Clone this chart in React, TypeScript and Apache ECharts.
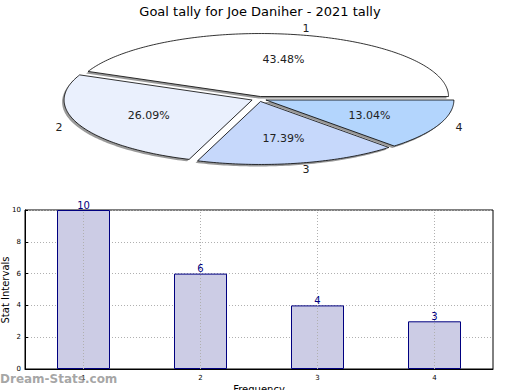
import React, { useEffect, useRef } from "react";
import * as echarts from "echarts";

const TITLE = "Goal tally for Joe Daniher - 2021 tally";
const categories = ["1", "2", "3", "4"];
const goals = [10, 6, 4, 3];
const sliceColors = ["#ffffff", "#eaf0fd", "#c6d8fb", "#b3d5fd"];
const yTicks = [0, 2, 4, 6, 8, 10];
const Y_NAME = "Stat Intervals";
const X_NAME = "Frequency";

const FONT = "DejaVu Sans, Verdana, sans-serif";

const total = goals.reduce((a, b) => a + b, 0);
const starts: number[] = [];
{
  let acc = 0;
  for (const v of goals) {
    starts.push((acc / total) * 360);
    acc += v;
  }
}

// pie geometry (layout only)
const CX = 259;
const CY = 99;
const RX = 188;
const RY = 63;
const EXPLODE = 0.04;

function slicePoints(i: number, v: number, dx: number, dy: number) {
  const a0 = starts[i];
  const a1 = a0 + (v / total) * 360;
  const mid = ((a0 + a1) / 2) * (Math.PI / 180);
  const ox = CX + EXPLODE * RX * Math.cos(mid) + dx;
  const oy = CY - EXPLODE * RY * Math.sin(mid) + dy;
  const pts: number[][] = [[ox, oy]];
  const steps = Math.max(4, Math.ceil(a1 - a0));
  for (let k = 0; k <= steps; k++) {
    const t = ((a0 + ((a1 - a0) * k) / steps) * Math.PI) / 180;
    pts.push([ox + RX * Math.cos(t), oy - RY * Math.sin(t)]);
  }
  return { pts, mid };
}

export default function App() {
  const ref = useRef<HTMLDivElement>(null);
  useEffect(() => {
    if (!ref.current) return;
    const chart = echarts.init(ref.current, null, { renderer: "svg" });
    const option: any = {
      animation: false,
      backgroundColor: "#ffffff",
      title: {
        text: TITLE,
        left: "center",
        top: 0,
        textStyle: { fontFamily: FONT, fontSize: 13, fontWeight: "normal", color: "#000" },
      },
      graphic: [
        {
          type: "text",
          x: 5,
          y: 290,
          rotation: Math.PI / 2,
          z: 50,
          style: {
            text: Y_NAME,
            font: "10px " + FONT,
            fill: "#000",
            align: "center",
            verticalAlign: "middle",
          },
        },
        {
          type: "text",
          left: 0,
          top: 373,
          z: 100,
          style: {
            text: "Dream-Stats.com",
            font: "bold 12px " + FONT,
            fill: "rgba(150,150,150,0.85)",
          },
        },
      ],
      grid: {
        left: 25,
        right: 27,
        top: 210,
        bottom: 21,
        containLabel: false,
        outerBoundsMode: "none",
        show: true,
        borderColor: "#000",
        borderWidth: 1,
        backgroundColor: "transparent",
      },
      xAxis: {
        type: "category",
        data: categories,
        name: X_NAME,
        nameLocation: "middle",
        nameGap: 15,
        nameTextStyle: { fontFamily: FONT, fontSize: 10, color: "#000" },
        axisLine: { lineStyle: { color: "#000", width: 1 } },
        axisTick: { show: true, inside: true, alignWithLabel: true, length: 3, lineStyle: { color: "#000" } },
        axisLabel: { fontFamily: FONT, fontSize: 7, color: "#000", margin: 5 },
        splitLine: { show: false },
      },
      yAxis: {
        type: "value",
        min: 0,
        max: 10,
        interval: 2,
        axisLine: { show: true, lineStyle: { color: "#000", width: 1 } },
        axisTick: { show: true, inside: true, length: 3, lineStyle: { color: "#000" } },
        axisLabel: {
          fontFamily: FONT,
          fontSize: 7,
          color: "#000",
          margin: 4,
          formatter: (v: number) => (yTicks.includes(v) ? String(v) : ""),
        },
        splitLine: { show: true, lineStyle: { color: "#b0b0b0", type: [1, 2], width: 1 } },
      },
      series: [
        {
          type: "bar",
          data: goals,
          barWidth: 53,
          z: 2,
          itemStyle: { color: "#ccccE5", borderColor: "#000080", borderWidth: 1 },
          label: {
            show: true,
            position: "top",
            distance: 0,
            fontFamily: FONT,
            fontSize: 10,
            color: "#000080",
          },
          markLine: {
            silent: true,
            symbol: "none",
            z: 5,
            label: { show: false },
            lineStyle: { color: "#b0b0b0", type: [1, 2], width: 1 },
            data: categories.map((c) => ({ xAxis: c })),
          },
        },
        {
          type: "custom",
          coordinateSystem: "none",
          z: 1,
          silent: true,
          data: goals,
          renderItem: (params: any, api: any) => {
            const i = params.dataIndex;
            const v = api.value(0);
            const { pts } = slicePoints(i, v, -2, 2);
            return {
              type: "polygon",
              shape: { points: pts },
              style: { fill: "rgba(110,110,110,0.7)", stroke: "none" },
            };
          },
        },
        {
          type: "custom",
          coordinateSystem: "none",
          z: 3,
          silent: true,
          data: goals,
          renderItem: (params: any, api: any) => {
            const i = params.dataIndex;
            const v = api.value(0);
            const { pts, mid } = slicePoints(i, v, 0, 0);
            const c = Math.cos(mid);
            const s = Math.sin(mid);
            const pctR = 0.6 + EXPLODE;
            const labR = 1.1 + EXPLODE;
            const pct = ((v / total) * 100).toFixed(2) + "%";
            return {
              type: "group",
              children: [
                {
                  type: "polygon",
                  shape: { points: pts },
                  style: { fill: sliceColors[i], stroke: "#000", lineWidth: 0.8 },
                },
                {
                  type: "text",
                  x: CX + pctR * RX * c,
                  y: CY - pctR * RY * s,
                  style: {
                    text: pct,
                    font: "11px " + FONT,
                    fill: "#222",
                    align: "center",
                    verticalAlign: "middle",
                  },
                },
                {
                  type: "text",
                  x: CX + labR * RX * c,
                  y: CY - labR * RY * s,
                  style: {
                    text: categories[i],
                    font: "11px " + FONT,
                    fill: "#222",
                    align: c >= 0 ? "left" : "right",
                    verticalAlign: "middle",
                  },
                },
              ],
            };
          },
        },
      ],
    };
    chart.setOption(option);
    return () => chart.dispose();
  }, []);
  return (
    <div
      ref={ref}
      style={{ position: "fixed", left: 0, top: 0, width: 520, height: 390, background: "#fff" }}
    />
  );
}
